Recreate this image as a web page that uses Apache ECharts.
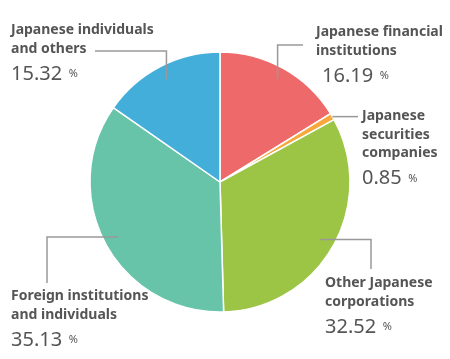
<!DOCTYPE html>
<html><head><meta charset="utf-8">
<script src="https://cdn.jsdelivr.net/npm/echarts@6/dist/echarts.min.js"></script>
<style>html,body{margin:0;padding:0;background:#fff}#c{width:450px;height:359px}</style>
</head><body><div id="c"></div>
<script>
const categories = ['Japanese financial\ninstitutions', 'Japanese\nsecurities\ncompanies', 'Other Japanese\ncorporations', 'Foreign institutions\nand individuals', 'Japanese individuals\nand others'];
const values = [16.19, 0.85, 32.52, 35.13, 15.32];
const colors = ['#EE6A6A', '#F6A83C', '#9CC545', '#67C4A9', '#44AEDA'];

const CENTER = [220, 182];
const RADIUS = 130;
// label placement (layout) and leader-line shapes
const labelPos = [
  { x: 316, y: 23, k: 0.91, indent: true, line: s => [s, [s[0], 45], [303, 45]] },
  { x: 362, y: 107, k: 1.0, line: s => [s, [358, s[1]]] },
  { x: 325, y: 274, k: 0.89, line: s => [s, [371, s[1]], [371, 269]] },
  { x: 11, y: 287, k: 0.89, line: s => [s, [47, s[1]], [47, 283]] },
  { x: 11, y: 21, k: 0.89, line: s => [s, [s[0], 51], [95, 51]] }
];

const pieData = categories.map((n, i) => ({ name: n, value: values[i], itemStyle: { color: colors[i] } }));
const vStyle = { fontFamily: 'Noto Sans', fontSize: 20, lineHeight: 32, color: '#555' };

const chart = echarts.init(document.getElementById('c'));
chart.setOption({
  animation: false,
  series: [{
    type: 'pie',
    z: 2,
    center: CENTER,
    radius: RADIUS,
    startAngle: 90,
    clockwise: true,
    silent: true,
    itemStyle: { borderColor: '#fff', borderWidth: 1.5 },
    data: pieData,
    label: { show: false },
    labelLine: { show: false }
  }, {
    type: 'pie',
    z: 5,
    center: CENTER,
    radius: RADIUS,
    startAngle: 90,
    clockwise: true,
    silent: true,
    itemStyle: { color: 'rgba(0,0,0,0)', borderWidth: 0 },
    data: categories.map((n, i) => ({ name: n, value: values[i] })),
    label: {
      show: true,
      position: 'outside',
      overflow: 'none',
      formatter: p => '{n|' + p.name.split('\n').join('}\n{n|') + '}\n{' + (labelPos[p.dataIndex].indent ? 'vi' : 'v') + '|' + p.value.toFixed(2) + '}  {p|%}',
      rich: {
        n: { fontFamily: 'Noto Sans', fontWeight: 'bold', fontSize: 14, lineHeight: 18.5, color: '#555' },
        v: vStyle,
        vi: Object.assign({}, vStyle, { padding: [0, 0, 0, 6] }),
        p: { fontFamily: 'Noto Sans', fontSize: 11, lineHeight: 32, color: '#555' }
      }
    },
    labelLine: { show: true, length: 10, length2: 10, lineStyle: { color: '#999', width: 1.5 } },
    labelLayout: params => {
      const L = labelPos[params.dataIndex];
      const p0 = params.labelLinePoints ? params.labelLinePoints[0] : CENTER;
      const s = [CENTER[0] + L.k * (p0[0] - CENTER[0]), CENTER[1] + L.k * (p0[1] - CENTER[1])];
      return { x: L.x, y: L.y, align: 'left', verticalAlign: 'top', labelLinePoints: L.line(s) };
    }
  }]
});
</script></body></html>
